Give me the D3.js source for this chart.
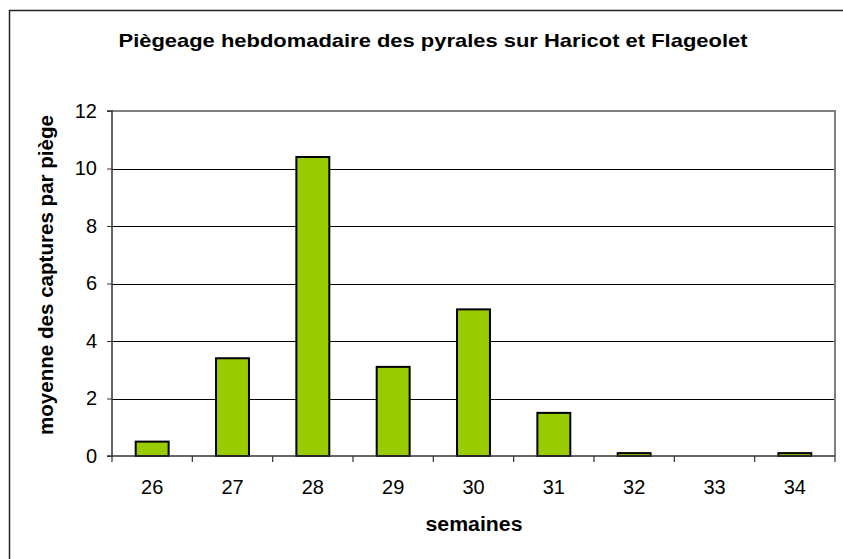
<!DOCTYPE html>
<html>
<head>
<meta charset="utf-8">
<script src="https://cdn.jsdelivr.net/npm/d3@7"></script>
<style>
  html, body { margin: 0; padding: 0; background: #fff; }
  svg { display: block; font-family: "Liberation Sans", Arial, sans-serif; }
</style>
</head>
<body>
<script>
const categories = ["26", "27", "28", "29", "30", "31", "32", "33", "34"];
const values = [0.5, 3.4, 10.4, 3.1, 5.1, 1.5, 0.1, 0, 0.1];
const yTicks = [0, 2, 4, 6, 8, 10, 12];
const title = "Piègeage hebdomadaire des pyrales sur Haricot et Flageolet";
const xTitle = "semaines";
const yTitle = "moyenne des captures par piège";

const W = 843, H = 559;
const plot = { left: 112, right: 835, top: 111, bottom: 456 };

const svg = d3.select("body").append("svg").attr("width", W).attr("height", H);

// outer chart frame (only top and left edges visible)
svg.append("path")
  .attr("d", `M9.5,${H} V10.5 H${W}`)
  .attr("fill", "none").attr("stroke", "#222").attr("stroke-width", 1.5);

const x = d3.scaleBand().domain(categories)
  .range([plot.left, plot.right]).paddingInner(0.59).paddingOuter(0.295);
const y = d3.scaleLinear().domain([0, 12]).range([plot.bottom, plot.top]);

// gridlines
svg.append("g").selectAll("line")
  .data(yTicks.filter(t => t > 0 && t < 12))
  .join("line")
  .attr("x1", plot.left).attr("x2", plot.right)
  .attr("y1", d => Math.round(y(d)) + 0.5).attr("y2", d => Math.round(y(d)) + 0.5)
  .attr("stroke", "#000").attr("stroke-width", 1);

// plot area border (top/right, gray)
svg.append("path")
  .attr("d", `M${plot.left},${plot.top} H${plot.right} V${plot.bottom}`)
  .attr("fill", "none").attr("stroke", "#808080").attr("stroke-width", 2);

// bars
svg.append("g").selectAll("rect")
  .data(values.map((v, i) => ({ c: categories[i], v })))
  .join("rect")
  .attr("x", d => x(d.c))
  .attr("width", x.bandwidth())
  .attr("y", d => y(d.v))
  .attr("height", d => y(0) - y(d.v))
  .attr("fill", "#99CC00")
  .attr("stroke", "#000").attr("stroke-width", 2)
  .style("display", d => d.v > 0 ? null : "none");

// y axis
const yAxis = d3.axisLeft(y).tickValues(yTicks).tickSize(5).tickPadding(10).tickFormat(d3.format("d"));
const gy = svg.append("g").attr("transform", `translate(${plot.left},0)`).call(yAxis);
gy.select(".domain").attr("stroke", "#333").attr("stroke-width", 1.5).attr("d", `M-5,${plot.top}H0V${plot.bottom}H-5`);
gy.selectAll(".tick line").attr("stroke", "#333");
gy.selectAll(".tick text").attr("font-size", 20).attr("fill", "#000")
  .attr("font-family", "'Liberation Sans', Arial, sans-serif");

// x axis
const step = x.step();
const bounds = d3.range(categories.length + 1).map(i => plot.left + i * step);
const gx = svg.append("g").attr("transform", `translate(0,${plot.bottom})`)
  .call(d3.axisBottom(x).tickSize(0).tickPadding(24));
gx.select(".domain").attr("stroke", "#333").attr("stroke-width", 1.5).attr("d", `M${plot.left},0H${plot.right}`);
gx.selectAll(".tick text").attr("font-size", 20).attr("fill", "#000")
  .attr("font-family", "'Liberation Sans', Arial, sans-serif");
gx.append("g").selectAll("line").data(bounds).join("line")
  .attr("x1", d => d).attr("x2", d => d).attr("y1", 0).attr("y2", 6)
  .attr("stroke", "#333").attr("stroke-width", 1.2);

// titles
svg.append("text").attr("x", 433).attr("y", 47).attr("text-anchor", "middle")
  .attr("font-size", 19).attr("font-weight", "bold")
  .attr("textLength", 629).attr("lengthAdjust", "spacingAndGlyphs").text(title);
svg.append("text").attr("x", 474).attr("y", 531).attr("text-anchor", "middle")
  .attr("font-size", 20).attr("font-weight", "bold")
  .attr("textLength", 97).attr("lengthAdjust", "spacingAndGlyphs").text(xTitle);
svg.append("text").attr("transform", `translate(53,275) rotate(-90)`).attr("text-anchor", "middle")
  .attr("font-size", 20).attr("font-weight", "bold")
  .attr("textLength", 320).attr("lengthAdjust", "spacingAndGlyphs").text(yTitle);
</script>
</body>
</html>
